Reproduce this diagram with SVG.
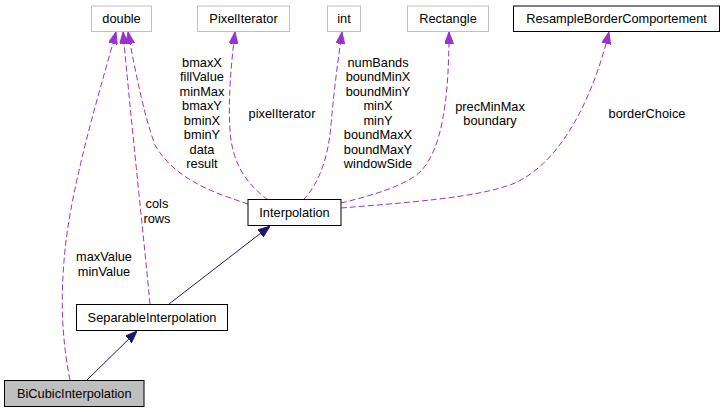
<svg xmlns="http://www.w3.org/2000/svg" width="724" height="412" viewBox="0 0 724 412">
<style>
text{font-family:"Liberation Sans",Arial,Helvetica,sans-serif;font-size:12.8px;fill:#000}
.n text{text-anchor:middle}
.box{fill:#fff;stroke:#000;stroke-width:1}
.ext{fill:#fff;stroke:#bfbfbf;stroke-width:1}
.cur{fill:#bfbfbf;stroke:#000;stroke-width:1}
.use{fill:none;stroke:#9a32cd;stroke-width:1;stroke-dasharray:6,3;marker-end:url(#ap)}
.inh{fill:none;stroke:#191970;stroke-width:1;marker-end:url(#an)}
.lbl{text-anchor:middle}
</style>
<defs>
<marker id="ap" viewBox="0 0 12 9" refX="12" refY="4.5" markerWidth="12" markerHeight="9" markerUnits="userSpaceOnUse" orient="auto"><path d="M0,0 L12,4.5 L0,9 z" fill="#9a32cd" stroke="#9a32cd" stroke-width="1"/></marker>
<marker id="an" viewBox="0 0 12 9" refX="12" refY="4.5" markerWidth="12" markerHeight="9" markerUnits="userSpaceOnUse" orient="auto"><path d="M0,0 L12,4.5 L0,9 z" fill="#191970" stroke="#191970" stroke-width="1"/></marker>
</defs>
<rect width="724" height="412" fill="#fff"/>
<g id="connectors">
<path class="use" d="M70,380 C62,340 60,300 65,250 C72,180 103,80 116,32"/>
<path class="use" d="M150,304 C145,250 133,140 123,32"/>
<path class="use" d="M248,204 C215,193 175,180 155,145 C144,115 136,75 128,32"/>
<path class="use" d="M268,200 C248,185 232,165 230,130 C228,100 231,65 235,32"/>
<path class="use" d="M303,200 C318,185 328,160 331,125 C334,90 338,60 342,32"/>
<path class="use" d="M341,203 C370,196 405,186 420,172 C442,150 449,100 449,32"/>
<path class="use" d="M341,208 C400,203 480,198 515,183 C565,160 595,90 609,32"/>
<path class="inh" d="M87,380 L137,331"/>
<path class="inh" d="M169,304 L270,226"/>
<g class="lbl">
<text x="202" y="66.5">bmaxX</text>
<text x="202" y="81">fillValue</text>
<text x="202" y="95.5">minMax</text>
<text x="202" y="110">bmaxY</text>
<text x="202" y="124.5">bminX</text>
<text x="202" y="139">bminY</text>
<text x="202" y="153.5">data</text>
<text x="202" y="168">result</text>
<text x="282" y="117.5">pixelIterator</text>
<text x="378" y="66.5">numBands</text>
<text x="378" y="81">boundMinX</text>
<text x="378" y="95.5">boundMinY</text>
<text x="378" y="110">minX</text>
<text x="378" y="124.5">minY</text>
<text x="378" y="139">boundMaxX</text>
<text x="378" y="153.5">boundMaxY</text>
<text x="378" y="168">windowSide</text>
<text x="490" y="110.5">precMinMax</text>
<text x="490" y="125">boundary</text>
<text x="647" y="117.5">borderChoice</text>
<text x="157" y="208">cols</text>
<text x="157" y="222.5">rows</text>
<text x="104" y="261">maxValue</text>
<text x="104" y="275.5">minValue</text>
</g>
</g>
<g id="double" class="n"><rect class="ext" x="91.5" y="6" width="60" height="25.5"/><text x="121.5" y="22.5">double</text></g>
<g id="PixelIterator" class="n"><rect class="ext" x="197.5" y="6" width="92" height="25.5"/><text x="243.5" y="22.5">PixelIterator</text></g>
<g id="int" class="n"><rect class="ext" x="327.5" y="6" width="33" height="25.5"/><text x="344" y="22.5">int</text></g>
<g id="Rectangle" class="n"><rect class="ext" x="407.5" y="6" width="81" height="25.5"/><text x="448" y="22.5">Rectangle</text></g>
<g id="ResampleBorderComportement" class="n"><rect class="box" x="513.5" y="6" width="206" height="25.5"/><text x="616.5" y="22.5">ResampleBorderComportement</text></g>
<g id="Interpolation" class="n"><rect class="box" x="248" y="199.5" width="93" height="26"/><text x="294.5" y="216.5">Interpolation</text></g>
<g id="SeparableInterpolation" class="n"><rect class="box" x="76.5" y="304.5" width="151" height="26"/><text x="152" y="321.5">SeparableInterpolation</text></g>
<g id="BiCubicInterpolation" class="n"><rect class="cur" x="4.5" y="380.5" width="139.5" height="26"/><text x="74.25" y="397.5">BiCubicInterpolation</text></g>
</svg>
